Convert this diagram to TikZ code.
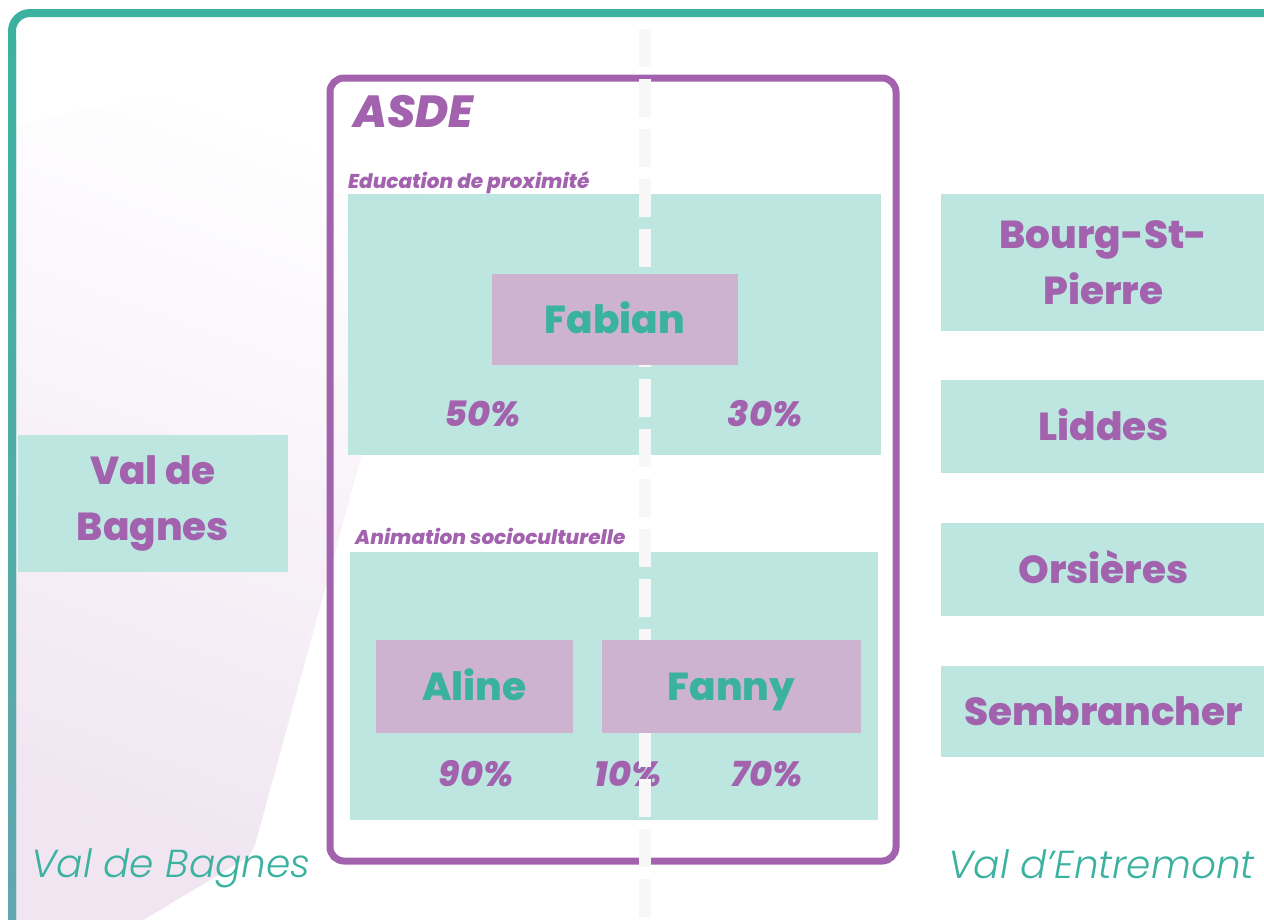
\documentclass[tikz,border=0pt]{standalone}
\usepackage{fontspec}
\setmainfont{Poppins}[BoldFont={* ExtraBold},BoldItalicFont={* ExtraBold Italic},ItalicFont={* Light Italic}]
\definecolor{bordteal}{HTML}{3DB1A0}
\definecolor{bordblue}{HTML}{62A7AE}
\definecolor{txtteal}{HTML}{3BB2A0}
\definecolor{purp}{HTML}{A262AE}
\definecolor{tealfill}{HTML}{BDE6E0}
\definecolor{lavfill}{HTML}{CEB3D0}
\definecolor{dashgray}{HTML}{F7F7F7}
\definecolor{bgpink}{HTML}{F0E5F1}
\definecolor{bgmid}{HTML}{FAF7FA}
\begin{document}
\begin{tikzpicture}[x=1pt,y=-1pt,
  tealbox/.style={fill=tealfill,draw=none,inner sep=0pt,outer sep=0pt},
  lavbox/.style={fill=lavfill,draw=none,inner sep=0pt,outer sep=0pt,text=txtteal,font=\fontsize{39}{48}\selectfont\bfseries,text height=28pt,text depth=0pt},
  place/.style={tealbox,text=purp,font=\fontsize{39}{56}\selectfont\bfseries,align=center},
  pct/.style={anchor=base,inner sep=0pt,text=purp,font=\fontsize{35}{40}\selectfont\bfseries\itshape},
  sect/.style={anchor=base west,inner sep=0pt,text=purp,font=\fontsize{20}{24}\selectfont\bfseries\itshape},
  vallabel/.style={anchor=base west,inner sep=0pt,text=txtteal,font=\fontsize{39}{44}\selectfont\itshape},
  divider/.style={draw=dashgray,line width=12pt,dash pattern=on 38pt off 12pt}
]
\useasboundingbox (0,0) rectangle (1264,919);
% faint background shape
\shade[top color=white,middle color=bgmid,bottom color=bgpink,shading angle=-20]
  (12,128) .. controls (120,92) and (300,78) .. (460,95) -- (255,845)
  .. controls (250,855) .. (240,862) -- (135,925) -- (12,925) -- cycle;
% outer frame
\draw[bordteal,line width=8pt,rounded corners=18pt] (12,13) rectangle (1300,960);
\shade[top color=bordteal,bottom color=bordblue] (8,40) rectangle (16,919);
% ASDE frame
\draw[purp,line width=7pt,rounded corners=14pt] (330,78) rectangle (896,861);
\node[anchor=base west,inner sep=0pt,text=purp,font=\fontsize{45}{50}\selectfont\bfseries\itshape] (asde) at (353,127) {ASDE};
% sections
\node[sect] (edulabel) at (348,188) {Education de proximité};
\node[tealbox,minimum width=533pt,minimum height=261pt] (edu) at (614.5,324.5) {};
\node[sect] (animlabel) at (355,544) {Animation socioculturelle};
\node[tealbox,minimum width=528pt,minimum height=268pt] (anim) at (614,686) {};
% percentages
\node[pct] (p50) at (482,426) {50\%};
\node[pct] (p30) at (765,426) {30\%};
\node[pct] (p90) at (476,786) {90\%};
\node[pct] (p10) at (628,786) {10\%};
\node[pct] (p70) at (767,786) {70\%};
% divider
\coordinate (dtop) at (645,29);
\coordinate (dbot) at (645,919);
\draw[divider] (dtop) -- (dbot);
% people
\node[lavbox,minimum width=246pt,minimum height=91pt] (fabian) at (615,319.5) {Fabian};
\node[lavbox,minimum width=197pt,minimum height=93pt] (aline) at (474.5,686.5) {Aline};
\node[lavbox,minimum width=259pt,minimum height=93pt] (fanny) at (731.5,686.5) {Fanny};
% places
\node[place,minimum width=270pt,minimum height=137pt] (bagnes) at (153,503.5) {Val de\\Bagnes};
\node[place,minimum width=325pt,minimum height=137pt] (bourg) at (1103.5,262.5) {Bourg-St-\\Pierre};
\node[place,minimum width=325pt,minimum height=93pt,text height=28pt,text depth=0pt] (liddes) at (1103.5,426.5) {Liddes};
\node[place,minimum width=325pt,minimum height=93pt,text height=28pt,text depth=0pt] (orsieres) at (1103.5,569.5) {Orsières};
\node[place,minimum width=325pt,minimum height=91pt,text height=28pt,text depth=0pt] (sembr) at (1103.5,711.5) {Sembrancher};
% valley labels
\node[vallabel] (vb) at (31,877) {Val de Bagnes};
\node[vallabel] (ve) at (948,878) {Val d’Entremont};
\end{tikzpicture}
\end{document}
